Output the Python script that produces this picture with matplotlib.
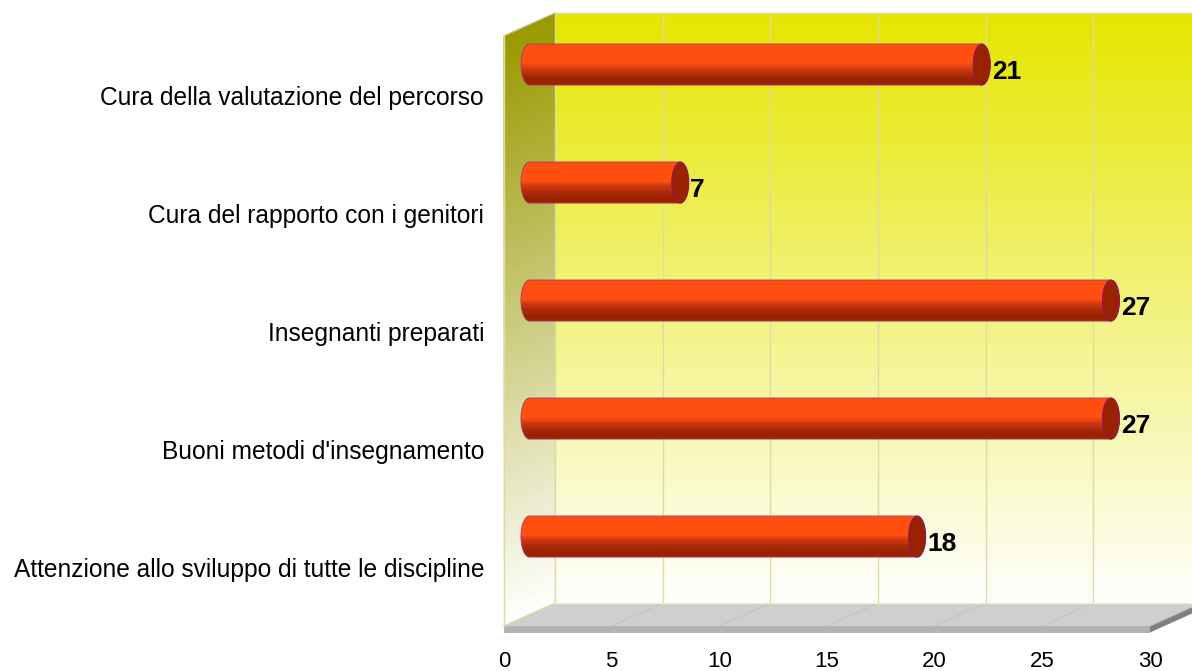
import numpy as np
import matplotlib
matplotlib.use('Agg')
import matplotlib.pyplot as plt
from matplotlib.patches import Polygon, Ellipse
from matplotlib.colors import LinearSegmentedColormap

plt.rcParams['font.family'] = ['Liberation Sans', 'DejaVu Sans']

# Data, bottom to top
categories = ['Attenzione allo sviluppo di tutte le discipline',
              "Buoni metodi d'insegnamento",
              'Insegnanti preparati',
              'Cura del rapporto con i genitori',
              'Cura della valutazione del percorso']
values = [18, 27, 27, 7, 21]
x_ticks = [0, 5, 10, 15, 20, 25, 30]

# --- figure and front plane of the fake 3D box ---
W, H = 1192, 671
fig = plt.figure(figsize=(W / 100, H / 100), dpi=100)
ax = fig.add_axes([504 / W, (H - 626) / H, 646 / W, 590 / H])
ax.patch.set_visible(False)
for s in ax.spines.values():
    s.set_visible(False)

px_x = 30 / 646   # data units per pixel
px_y = 5 / 590
dx, dy = 51 * px_x, 23 * px_y  # depth of the box
xmax, ymax = 30, 5

# --- back wall ---
wall_cmap = LinearSegmentedColormap.from_list('wall', ['#ffffff', '#e6e600'])
grad = np.linspace(1, 0, 256).reshape(-1, 1)
ax.imshow(grad, cmap=wall_cmap, vmin=0, vmax=1, aspect='auto', zorder=1, clip_on=False,
          extent=[dx, xmax + dx, dy, ymax + dy], origin='upper')

# --- left wall, skewed gradient ---
side_cmap = LinearSegmentedColormap.from_list('side', ['#ffffff', '#999900'])
t = np.linspace(0, 1, 60)
d = np.array([0, 1])
T, D = np.meshgrid(t, d)
ax.pcolormesh(D * dx, T * ymax + D * dy, T, cmap=side_cmap, shading='gouraud',
              vmin=0, vmax=1, zorder=1, clip_on=False)

# --- floor ---
floor_c = '#cfcfcf'
ax.add_patch(Polygon([(0, 0), (xmax, 0), (xmax + dx, dy), (dx, dy)], closed=True,
                     fc=floor_c, ec='none', zorder=2, clip_on=False))
t_h = 6.5 * px_y
ax.add_patch(Polygon([(0, 0), (xmax, 0), (xmax, -t_h), (0, -t_h)], closed=True,
                     fc='#b2b2b2', ec='none', zorder=2, clip_on=False))
ax.add_patch(Polygon([(xmax, 0), (xmax + dx, dy), (xmax + dx, dy - t_h), (xmax, -t_h)], closed=True,
                     fc='#808080', ec='none', zorder=2, clip_on=False))

# --- grid ---
grid_c = '#dcdca0'
for v in x_ticks:
    ax.plot([v + dx, v + dx], [dy, ymax + dy], color=grid_c, lw=1, zorder=3, clip_on=False)
    if v > 0:
        ax.plot([v, v + dx], [0, dy], color='#c2c2c2', lw=0.7, zorder=3, clip_on=False)
ax.plot([0, dx], [0, dy], color=grid_c, lw=1, zorder=3, clip_on=False)
ax.plot([0, 0], [0, ymax], color=grid_c, lw=1, zorder=3, clip_on=False)
ax.plot([dx, xmax + dx], [dy, dy], color='#f0f0c0', lw=1, zorder=3, clip_on=False)
ax.plot([dx, xmax + dx], [ymax + dy, ymax + dy], color=grid_c, lw=1, zorder=3, clip_on=False)
ax.plot([0, dx], [ymax, ymax + dy], color='#c8c8a0', lw=0.8, zorder=3, clip_on=False)

# --- cylinders ---
bar_h = 41 * px_y
cap_w = 17 * px_x
bar_off = 0.758
bands = ['#ff4f10'] * 10 + ['#ee4610', '#d93b10', '#c83610', '#c03210', '#ae2c0a', '#a82808',
                            '#9c2402', '#992200', '#992200', '#992200']
band_cmap = LinearSegmentedColormap.from_list('band', bands, N=len(bands))
outline_c = '#b03a60'
ang = np.linspace(np.pi / 2, 3 * np.pi / 2, 40)

for i, v in enumerate(values):
    yc = i + bar_off
    x0 = dx / 2
    x1 = v + dx / 2
    # body outline: left half ellipse plus right half ellipse
    left = np.column_stack([x0 + cap_w / 2 * np.cos(ang), yc + bar_h / 2 * np.sin(ang)])
    right = np.column_stack([x1 - cap_w / 2 * np.cos(ang), yc - bar_h / 2 * np.sin(ang)])
    outline = Polygon(np.vstack([left, right]), closed=True, fc='none', ec=outline_c, lw=0.7,
                      zorder=6, clip_on=False)
    im = ax.imshow(np.linspace(0, 1, len(bands)).reshape(-1, 1), cmap=band_cmap, aspect='auto',
                   interpolation='nearest', zorder=5, origin='upper',
                   extent=[x0 - cap_w / 2, x1 + cap_w / 2, yc - bar_h / 2, yc + bar_h / 2])
    ax.add_patch(outline)
    im.set_clip_path(outline)
    ax.add_patch(Ellipse((x1, yc), cap_w, bar_h, fc='#992200', ec='#96106a', lw=0.7, zorder=7,
                         clip_on=False))
    ax.text(x1 + 10 * px_x, yc - 7.5 * px_y, str(v), fontsize=19, fontweight='bold', color='black',
            va='center', ha='left', zorder=8, clip_on=False)

ax.set_xlim(0, xmax)
ax.set_ylim(0, ymax)
ax.set_xticks(x_ticks)
ax.set_xticklabels([str(v) for v in x_ticks], fontsize=16)
ax.set_yticks(np.arange(len(categories)) + 0.5 - 1 * px_y)
ax.set_yticklabels(categories, fontsize=17.65)
ax.tick_params(axis='x', length=0, pad=18)
ax.tick_params(axis='y', length=0, pad=14.4)

fig.savefig('out.png', dpi=100, facecolor='white')
